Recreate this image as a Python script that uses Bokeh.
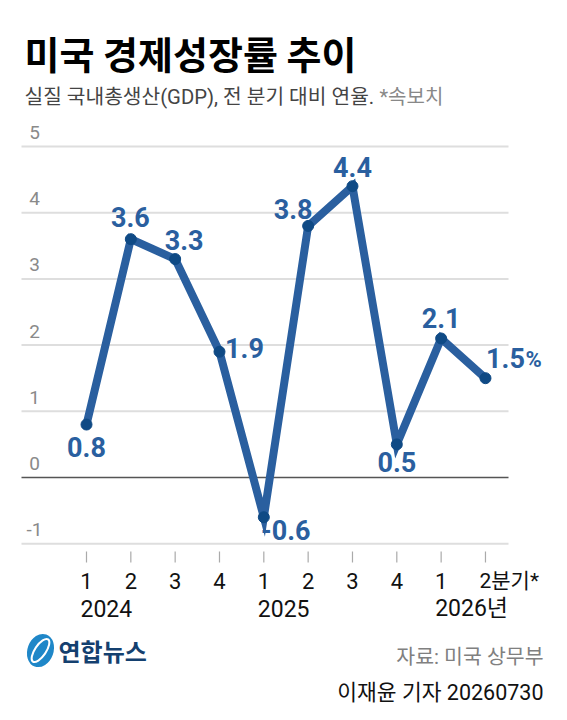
from bokeh.plotting import figure
from bokeh.models import ColumnDataSource, Label
from bokeh.core.properties import value
from bokeh.embed import file_html
from bokeh.resources import INLINE

quarters = ["1", "2", "3", "4", "1", "2", "3", "4", "1", "2분기*"]
years = ["2024", "2025", "2026년"]
year_pos = [0, 4, 8]
growth = [0.8, 3.6, 3.3, 1.9, -0.6, 3.8, 4.4, 0.5, 2.1, 1.5]
labels = ["0.8", "3.6", "3.3", "1.9", "-0.6", "3.8", "4.4", "0.5", "2.1", "1.5"]
y_ticks = [5, 4, 3, 2, 1, 0, -1]
title = "미국 경제성장률 추이"
sub1 = "실질 국내총생산(GDP), 전 분기 대비 연율."
sub2 = "*속보치"

# layout
W, H = 551, 704
X0, DX = 86.0, 44.33
Y0, DY = 477.0, 66.2
def px(x): return (x - X0) / DX
def py(y): return (Y0 - y) / DY
lab_dx = [0, -0.5, 9, 25, 22, -15, 0, 0, 0, 20]
lab_dy = [22, -22, -19, -4, 13, -17, -19, 18, -20, -20]

NUM = "Roboto"
LIGHT = 'Roboto, "Noto Sans CJK KR"'
KR = "Noto Sans CJK KR"
BLUE = "#2a5f9f"
DARK = "#0f4a85"

p = figure(width=W, height=H, output_backend="svg", toolbar_location=None,
           x_range=(px(0), px(W)), y_range=(py(H), py(0)),
           min_border=0, outline_line_color=None)
p.xaxis.visible = False
p.yaxis.visible = False
p.xgrid.visible = False
p.ygrid.visible = False

xs = list(range(len(growth)))
grid_y = [t for t in y_ticks if t != 0]
p.segment(x0=[px(21)] * 6, x1=[px(508)] * 6, y0=grid_y, y1=grid_y, line_color="#dedede", line_width=2)
p.segment(x0=[px(21)], x1=[px(508)], y0=[0], y1=[0], line_color="#555555", line_width=1.5)
p.segment(x0=xs, x1=xs, y0=[py(551)] * 10, y1=[py(562)] * 10, line_color="#aaaaaa", line_width=1.2)

src = ColumnDataSource(dict(x=xs, y=growth, t=labels, dx=lab_dx, dy=lab_dy))
p.line("x", "y", source=src, line_color=BLUE, line_width=8, line_join="miter")
p.scatter("x", "y", source=src, size=11, fill_color=DARK, line_color=DARK)
p.text("x", "y", text="t", source=src, x_offset="dx", y_offset="dy",
       text_color=BLUE, text_font=value(NUM), text_font_style="bold", text_font_size="27px",
       text_align="center", text_baseline="middle")
p.text(x=[xs[-1]], y=[growth[-1]], text=["%"], x_offset=40, y_offset=-19,
       text_color=BLUE, text_font=value(NUM), text_font_style="bold", text_font_size="22px",
       text_align="left", text_baseline="middle")

p.text(x=[px(34)] * 7, y=y_ticks, text=[str(t) for t in y_ticks], y_offset=-14,
       text_color="#8a8a8a", text_font=value(LIGHT), text_font_size="19px",
       text_align="center", text_baseline="middle")

qx = xs[:-1]
p.text(x=qx, y=[py(580)] * 9, text=quarters[:-1], text_color="#111111", text_font=value(LIGHT),
       text_font_size="22px", text_align="center", text_baseline="middle")
p.text(x=[xs[-1]], y=[py(580)], text=[quarters[-1]], x_offset=-6, text_color="#111111", text_font=value(LIGHT),
       text_font_size="21px", text_align="left", text_baseline="middle")
p.text(x=year_pos, y=[py(608)] * 3, text=years, x_offset=-6, text_color="#111111", text_font=value(LIGHT),
       text_font_size="23px", text_align="left", text_baseline="middle")

def lab(x, y, t, size, color, font=KR, style="normal", align="left"):
    p.add_layout(Label(x=px(x), y=py(y), text=t, text_font=font, text_font_size=size,
                       text_font_style=style, text_color=color, text_align=align,
                       text_baseline="middle"))

lab(24, 52, title, "38px", "#000000", style="bold")
lab(24, 96, sub1, "20.3px", "#444444", font=LIGHT)
lab(379, 96, sub2, "20px", "#888888", font=LIGHT)
lab(543, 656, "자료: 미국 상무부", "20.5px", "#808080", font=LIGHT, align="right")
lab(543, 692, "이재윤 기자 20260730", "21.5px", "#111111", font=LIGHT, align="right")

# logo
p.ellipse(x=[px(40)], y=[py(650)], width=26 / DX, height=34 / DY, angle=-0.35,
          fill_color="#1f87c8", line_color=None)
p.ellipse(x=[px(40)], y=[py(650)], width=11 / DX, height=27 / DY, angle=-0.6,
          fill_color=None, line_color="#ffffff", line_width=2)
lab(58, 650, "연합뉴스", "24px", "#14406f", style="bold")

open("out.html", "w").write(file_html(p, INLINE))
